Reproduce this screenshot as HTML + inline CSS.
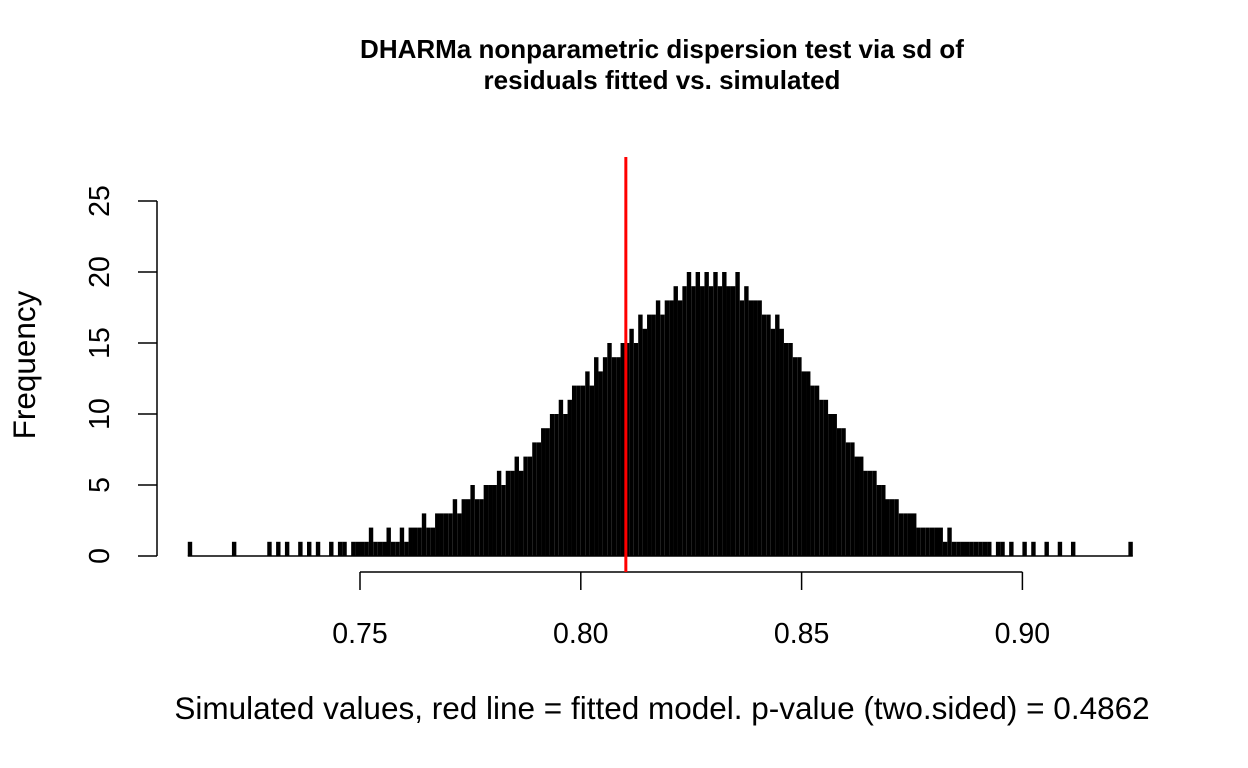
<!DOCTYPE html>
<html><head><meta charset="utf-8"><style>
body{margin:0;background:#fff;}
svg{display:block;font-family:"Liberation Sans",sans-serif;}
</style></head><body>
<svg id="chart" width="1248" height="768">
<text x="662" y="58" text-anchor="middle" font-weight="bold" font-size="26">DHARMa nonparametric dispersion test via sd of</text>
<text x="662" y="89" text-anchor="middle" font-weight="bold" font-size="26">residuals fitted vs. simulated</text>
<text transform="translate(35,365) rotate(-90)" text-anchor="middle" font-size="31.5">Frequency</text>
<text x="662" y="719" text-anchor="middle" font-size="31.5">Simulated values, red line = fitted model. p-value (two.sided) = 0.4862</text>
<g id="bars"></g>
<g id="axes"></g>
</svg>
<script>
const binStart = 0.711;
const binWidth = 0.001;
const counts = [
1,0,0,0,0,0,0,0,0,
0,1,0,0,0,0,0,0,0,1,
0,1,0,1,0,0,1,0,1,0,
1,0,0,1,0,1,1,0,1,1,
1,1,2,1,1,1,2,1,1,2,
1,2,2,2,3,2,2,3,3,3,
3,4,3,4,4,5,4,4,5,5,
5,6,5,6,6,7,6,7,7,8,
8,9,9,10,10,11,10,11,12,12,
12,13,12,14,13,14,15,14,14,15,
15,16,15,17,16,17,17,18,17,18,
18,19,18,19,20,19,20,19,20,19,
20,19,20,19,19,20,18,19,18,18,
18,17,17,16,17,16,15,15,14,14,
13,13,12,12,11,11,10,10,9,9,
8,8,7,7,6,6,6,5,5,4,
4,4,3,3,3,3,2,2,2,2,
2,2,1,2,1,1,1,1,1,1,
1,1,1,0,1,1,0,1,0,0,
1,0,1,0,0,1,0,0,1,0,
0,1,0,0,0,0,0,0,0,0,0,0,0,0,1
];
const xTicks = [0.75, 0.80, 0.85, 0.90];
const xTickLabels = ["0.75","0.80","0.85","0.90"];
const yTicks = [0,5,10,15,20,25];
const yTickLabels = ["0","5","10","15","20","25"];
const fittedValue = 0.8102;

const NS="http://www.w3.org/2000/svg";
const xS = v => 360 + (v-0.75)*4416;
const yS = f => 556 - f*14.2;
const bars=document.getElementById('bars'), axes=document.getElementById('axes');
function mk(tag,attrs,parent){const e=document.createElementNS(NS,tag);for(const k in attrs)e.setAttribute(k,attrs[k]);parent.appendChild(e);return e;}

counts.forEach((c,i)=>{
  const x0=xS(binStart+i*binWidth), x1=xS(binStart+(i+1)*binWidth);
  if(c>0){
    const r=mk('rect',{x:x0,y:yS(c),width:x1-x0,height:yS(0)-yS(c),fill:'#000'},bars);
    
    
  }
});
const base=mk('line',{x1:xS(binStart),x2:xS(binStart+counts.length*binWidth),y1:556,y2:556,stroke:'#000','stroke-width':1.5},bars);



const xl=mk('line',{x1:xS(xTicks[0]),x2:xS(xTicks[xTicks.length-1]),y1:572,y2:572,stroke:'#000','stroke-width':1.5},axes);


xTicks.forEach((t,i)=>{
  mk('line',{x1:xS(t),x2:xS(t),y1:572,y2:590,stroke:'#000','stroke-width':1.5},axes);
  const tx=mk('text',{x:xS(t),y:643,'text-anchor':'middle','font-size':28.5},axes);
  tx.textContent=xTickLabels[i];
  
  
});
const yl=mk('line',{x1:157,x2:157,y1:yS(yTicks[yTicks.length-1]),y2:yS(0),stroke:'#000','stroke-width':1.5},axes);


yTicks.forEach((t,i)=>{
  mk('line',{x1:138,x2:157,y1:yS(t),y2:yS(t),stroke:'#000','stroke-width':1.5},axes);
  const tx=mk('text',{transform:`translate(109,${yS(t)}) rotate(-90)`,'text-anchor':'middle','font-size':28.5},axes);
  tx.textContent=yTickLabels[i];
  
  
});
const red=mk('line',{x1:xS(fittedValue),x2:xS(fittedValue),y1:157,y2:572,stroke:'#ff0000','stroke-width':3},axes);


</script>
</body></html>
